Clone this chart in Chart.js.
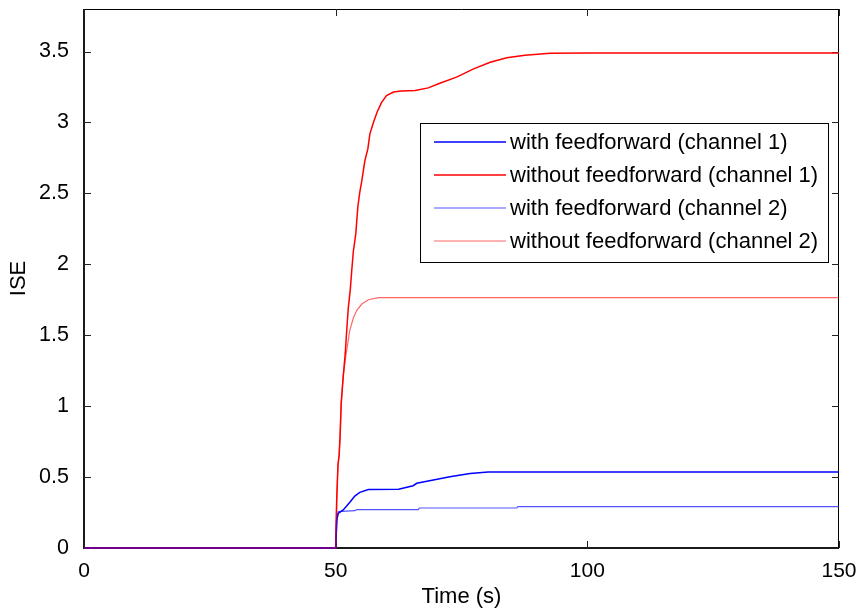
<!DOCTYPE html>
<html>
<head>
<meta charset="utf-8">
<script src="https://cdn.jsdelivr.net/npm/chart.js@4.4.1/dist/chart.umd.min.js"></script>
<style>
  html, body { margin: 0; padding: 0; background: #fff; }
  #wrap { width: 862px; height: 612px; }
</style>
</head>
<body>
<div id="wrap"><canvas id="c" width="862" height="612"></canvas></div>
<script>
// Integral of squared error over time, two channels, with / without feedforward
const timeFF1 = [0, 50, 50.2, 50.5, 51.5, 52.9, 53.8, 54.8, 56.5, 62.5, 65.4, 66.1, 69.4, 72.7, 76.7, 80.3, 150];
const iseFF1  = [0, 0, 0.197, 0.244, 0.268, 0.326, 0.366, 0.392, 0.413, 0.415, 0.439, 0.456, 0.479, 0.502, 0.526, 0.535, 0.535];

const timeNoFF1 = [0, 50, 50.2, 50.45, 50.7, 50.9, 51.1, 51.5, 51.9, 52.2, 52.5, 52.9, 53.2, 53.5, 54.0, 54.4, 54.8, 55.2, 55.8, 56.4, 56.8, 57.5, 58.2, 59.1, 60.1, 61.5, 63, 65.8, 68.4, 70.7, 74.0, 77.4, 80.7, 84.0, 87.6, 92.6, 100, 150];
const iseNoFF1  = [0, 0, 0.33, 0.58, 0.66, 0.81, 1.02, 1.21, 1.37, 1.535, 1.69, 1.82, 1.958, 2.087, 2.216, 2.404, 2.51, 2.59, 2.73, 2.815, 2.92, 3.0, 3.07, 3.14, 3.19, 3.215, 3.222, 3.225, 3.244, 3.277, 3.32, 3.378, 3.425, 3.456, 3.474, 3.488, 3.49, 3.49];

const timeFF2 = [0, 50, 50.3, 50.5, 53.8, 54.2, 66.4, 66.6, 86, 86.2, 150];
const iseFF2  = [0, 0, 0.2, 0.256, 0.263, 0.27, 0.27, 0.282, 0.282, 0.291, 0.291];

const timeNoFF2 = [0, 50, 50.2, 50.45, 50.7, 50.9, 51.1, 51.5, 52.0, 52.4, 52.8, 53.5, 54.2, 55.2, 56.5, 58.5, 150];
const iseNoFF2  = [0, 0, 0.33, 0.58, 0.66, 0.81, 1.02, 1.21, 1.35, 1.44, 1.535, 1.62, 1.676, 1.72, 1.75, 1.765, 1.765];

const seriesLabels = [
  'with feedforward (channel 1)',
  'without feedforward (channel 1)',
  'with feedforward (channel 2)',
  'without feedforward (channel 2)'
];

const xTicks = [0, 50, 100, 150];
const yTicks = [0, 0.5, 1, 1.5, 2, 2.5, 3, 3.5];

const FONT = '"Liberation Sans", Arial, Helvetica, sans-serif';

function pts(xs, ys) { return xs.map((x, i) => ({ x: x, y: ys[i] })); }

// Axes box with inward tick marks on all four sides
const framePlugin = {
  id: 'frame',
  beforeDatasetsDraw(chart) {
    const { ctx, chartArea: a, scales } = chart;
    ctx.save();
    ctx.strokeStyle = '#000';
    ctx.lineWidth = 1;
    ctx.beginPath();
    ctx.moveTo(a.left, a.top + 0.5); ctx.lineTo(a.right, a.top + 0.5);
    ctx.moveTo(a.right - 0.5, a.top); ctx.lineTo(a.right - 0.5, a.bottom);
    ctx.stroke();
    ctx.strokeStyle = '#1a1a1a';
    ctx.lineWidth = 2;
    ctx.beginPath();
    ctx.moveTo(a.left, a.top); ctx.lineTo(a.left, a.bottom + 1);
    ctx.moveTo(a.left - 1, a.bottom); ctx.lineTo(a.right, a.bottom);
    ctx.stroke();
    ctx.strokeStyle = '#222';
    ctx.lineWidth = 1;
    const len = 7;
    ctx.beginPath();
    yTicks.forEach(v => {
      const y = Math.round(scales.y.getPixelForValue(v)) + 0.5;
      ctx.moveTo(a.left, y); ctx.lineTo(a.left + len, y);
      ctx.moveTo(a.right, y); ctx.lineTo(a.right - len, y);
    });
    xTicks.forEach(v => {
      const x = Math.round(scales.x.getPixelForValue(v)) + 0.5;
      ctx.moveTo(x, a.bottom); ctx.lineTo(x, a.bottom - len);
      ctx.moveTo(x, a.top); ctx.lineTo(x, a.top + len);
    });
    ctx.stroke();
    ctx.restore();
  }
};

// Boxed legend inside the plot area
const boxLegendPlugin = {
  id: 'boxLegend',
  afterDatasetsDraw(chart) {
    const { ctx } = chart;
    const bx = 420, by = 123, bw = 408, bh = 139;
    ctx.save();
    ctx.fillStyle = '#fff';
    ctx.fillRect(bx, by, bw, bh);
    ctx.strokeStyle = '#000';
    ctx.lineWidth = 1;
    ctx.strokeRect(bx + 0.5, by + 0.5, bw, bh);
    ctx.font = '22px ' + FONT;
    ctx.textBaseline = 'middle';
    ctx.textAlign = 'left';
    chart.data.datasets.forEach((ds, i) => {
      const y = by + 19 + i * 33;
      ctx.strokeStyle = ds.borderColor;
      ctx.lineWidth = ds.borderWidth;
      ctx.beginPath();
      ctx.moveTo(434, y); ctx.lineTo(506, y);
      ctx.stroke();
      ctx.fillStyle = '#000';
      ctx.fillText(ds.label, 510, y + 1);
    });
    ctx.restore();
  }
};

new Chart(document.getElementById('c'), {
  type: 'scatter',
  data: {
    datasets: [
      { label: seriesLabels[0], data: pts(timeFF1, iseFF1), borderColor: '#0000ff', borderWidth: 1.5, order: 1 },
      { label: seriesLabels[1], data: pts(timeNoFF1, iseNoFF1), borderColor: '#ff0000', borderWidth: 1.5, order: 2 },
      { label: seriesLabels[2], data: pts(timeFF2, iseFF2), borderColor: 'rgba(40,40,255,0.8)', borderWidth: 1.2, order: 3 },
      { label: seriesLabels[3], data: pts(timeNoFF2, iseNoFF2), borderColor: 'rgba(255,0,0,0.6)', borderWidth: 1.2, order: 0 }
    ].map(d => Object.assign(d, { showLine: true, pointRadius: 0, fill: false, tension: 0, clip: 3 }))
  },
  options: {
    responsive: false,
    animation: false,
    events: [],
    layout: { padding: { left: 0, top: 9, right: 23, bottom: 0 } },
    plugins: { legend: { display: false }, tooltip: { enabled: false } },
    scales: {
      x: {
        type: 'linear', min: 0, max: 150,
        grid: { display: false },
        border: { display: false },
        afterBuildTicks(s) { s.ticks = xTicks.map(v => ({ value: v })); },
        afterFit(s) { s.height = 64; s.paddingLeft = 0; s.paddingRight = 0; },
        ticks: { color: '#000', padding: 3, maxRotation: 0, autoSkip: false, font: { family: FONT, size: 21 } },
        title: { display: true, text: 'Time (s)', color: '#000', padding: { top: 0, bottom: 2 }, font: { family: FONT, size: 22 } }
      },
      y: {
        type: 'linear', min: 0, max: 3.8,
        grid: { display: false },
        border: { display: false },
        afterBuildTicks(s) { s.ticks = yTicks.map(v => ({ value: v })); },
        afterFit(s) { s.width = 84; s.paddingTop = 0; s.paddingBottom = 0; },
        ticks: { color: '#000', padding: 7, autoSkip: false, font: { family: FONT, size: 21.5 }, callback: v => String(v) },
        title: { display: true, text: 'ISE', color: '#000', padding: { top: 6, bottom: 0 }, font: { family: FONT, size: 22 } }
      }
    }
  },
  plugins: [framePlugin, boxLegendPlugin]
});
</script>
</body>
</html>
